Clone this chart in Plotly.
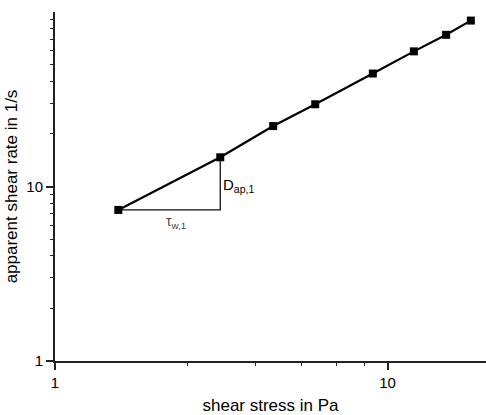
import math
import plotly.graph_objects as go

# Flow curve: wall shear stress vs. apparent shear rate
shear_stress = [1.55, 3.14, 4.53, 6.06, 9.03, 12.0, 15.0, 17.8]   # Pa
shear_rate = [7.34, 14.7, 22.2, 29.6, 44.4, 59.5, 74.0, 89.3]     # 1/s

x_major = [1, 10]
x_minor = [2.5, 4, 5.5, 7, 8.5]
y_major = [1, 10]
y_minor = [2, 3, 4, 5, 6, 7, 8, 9, 20, 30, 40, 50, 60, 70, 80, 90]

FONT = "Liberation Sans, Arial, sans-serif"

fig = go.Figure()

# slope triangle between the first two points
x0, x1 = shear_stress[0], shear_stress[1]
y0, y1 = shear_rate[0], shear_rate[1]
fig.add_trace(go.Scatter(
    x=[x0, x1, x1], y=[y0, y0, y1], mode="lines",
    line=dict(color="#111", width=1.3), hoverinfo="skip", showlegend=False))

fig.add_trace(go.Scatter(
    x=shear_stress, y=shear_rate, mode="lines+markers",
    line=dict(color="#000", width=2.2),
    marker=dict(symbol="square", size=8, color="#000"),
    showlegend=False))

fig.add_annotation(
    x=math.log10(x1), y=math.log10(math.sqrt(y0 * y1)),
    xref="x", yref="y", xanchor="left", yanchor="middle", xshift=1, yshift=-2,
    text="D<sub>ap,1</sub>", showarrow=False,
    font=dict(family=FONT, size=15, color="#000"))
fig.add_annotation(
    x=math.log10(math.sqrt(x0 * x1)), y=math.log10(y0),
    xref="x", yref="y", xanchor="center", yanchor="top", xshift=7, yshift=-1,
    text="τ<sub>w,1</sub>", showarrow=False,
    font=dict(family=FONT, size=14, color="#444"))

axis_common = dict(
    type="log", showgrid=False, zeroline=False,
    showline=True, linecolor="#222", linewidth=2,
    ticks="outside", ticklen=7, tickwidth=1.5, tickcolor="#222",
    tickmode="array",
    tickfont=dict(family=FONT, size=15, color="#000"),
)

fig.update_xaxes(
    **axis_common,
    range=[0, 1.296],
    tickvals=x_major, ticktext=[str(v) for v in x_major],
    minor=dict(tickmode="array", tickvals=x_minor, ticks="outside",
               ticklen=3, tickwidth=1.2, tickcolor="#222"),
    title=dict(text="shear stress in Pa", standoff=12,
               font=dict(family=FONT, size=17, color="#000")),
)
fig.update_yaxes(
    **axis_common,
    range=[0, 2.0],
    tickvals=y_major, ticktext=[str(v) for v in y_major],
    minor=dict(tickmode="array", tickvals=y_minor, ticks="outside",
               ticklen=3, tickwidth=1.2, tickcolor="#222"),
    title=dict(text="apparent shear rate in 1/s", standoff=4,
               font=dict(family=FONT, size=17, color="#000")),
)

fig.update_layout(
    width=486, height=415,
    margin=dict(l=55, r=0, t=12, b=51),
    paper_bgcolor="white", plot_bgcolor="white",
    font=dict(family=FONT),
)

fig.write_html("out.html")
